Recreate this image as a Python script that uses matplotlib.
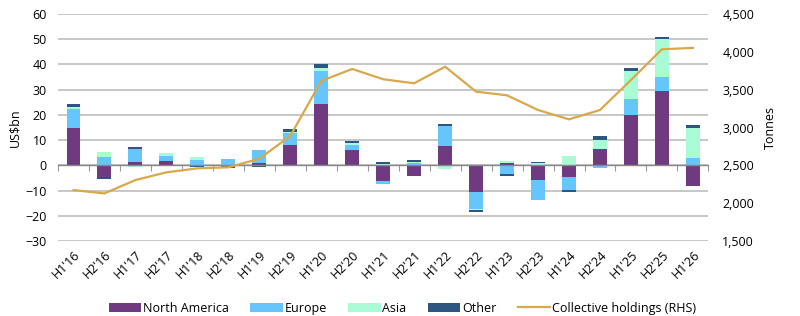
import matplotlib.pyplot as plt
import numpy as np

plt.rcParams['font.family'] = ['Open Sans', 'DejaVu Sans']

periods = ["H1'16", "H2'16", "H1'17", "H2'17", "H1'18", "H2'18", "H1'19",
           "H2'19", "H1'20", "H2'20", "H1'21", "H2'21", "H1'22", "H2'22",
           "H1'23", "H2'23", "H1'24", "H2'24", "H1'25", "H2'25", "H1'26"]

# US$bn flows by region
north_america = [15.0, -4.5, 1.2, 1.8, 0.3, -0.3, 0.8, 8.2, 24.5, 6.1, -6.0,
                 -4.2, 7.7, -10.7, 1.0, -5.7, -4.6, 6.5, 20.1, 29.4, -8.0]
europe = [7.5, 3.5, 5.2, 2.0, 2.0, 2.7, 5.2, 4.6, 12.8, 2.1, -1.4,
          1.0, 7.8, -6.6, -3.5, -7.9, -5.0, -1.2, 6.1, 5.8, 2.8]
asia = [0.7, 1.8, -0.6, 1.0, 1.2, 0.0, 0.2, 0.4, 1.1, 0.8, 0.6,
        0.3, -1.4, -0.2, 0.8, 0.8, 3.6, 3.7, 11.1, 14.7, 12.2]
other = [1.0, -0.8, 1.0, -0.4, -0.7, -0.8, -0.8, 1.2, 1.8, 0.8, 0.8,
         0.8, 1.0, -1.0, -0.6, 0.7, -0.8, 1.3, 1.3, 1.0, 0.9]

# collective holdings, tonnes (RHS)
holdings = [2174, 2130, 2306, 2408, 2461, 2474, 2588, 2888, 3615, 3773, 3637,
            3584, 3803, 3473, 3425, 3231, 3108, 3231, 3628, 4033, 4051]

series = [("North America", north_america, "#703a80"),
          ("Europe", europe, "#66c6fc"),
          ("Asia", asia, "#a9fbd6"),
          ("Other", other, "#2d5680")]

fs = 9

fig = plt.figure(figsize=(8, 3.16), dpi=100)
ax = fig.add_axes([0.0725, 0.237, 0.813, 0.719])
x = np.arange(len(periods))

pos_base = np.zeros(len(periods))
neg_base = np.zeros(len(periods))
for name, vals, col in series:
    v = np.array(vals)
    base = np.where(v >= 0, pos_base, neg_base)
    ax.bar(x, v, bottom=base, width=0.45, color=col, label=name, zorder=3)
    pos_base += np.where(v >= 0, v, 0)
    neg_base += np.where(v < 0, v, 0)

ax.set_xlim(-0.5, len(periods) - 0.5)
ax.set_ylim(-30, 60)
ax.set_yticks(np.arange(-30, 61, 10))
ax.grid(axis='y', color='#bdbdbd', linewidth=1.2, zorder=0)
ax.set_axisbelow(True)
for s in ax.spines.values():
    s.set_visible(False)
ax.tick_params(axis='y', length=0, labelsize=fs, pad=8)
ax.set_xticks(x)
ax.set_xticklabels(periods, rotation=45, ha='right', rotation_mode='anchor',
                   fontsize=fs)
ax.tick_params(axis='x', length=0, pad=5)
ax.set_ylabel("US$bn", fontsize=fs, labelpad=3)

# zero line with ticks between categories
zero = ax.secondary_xaxis(30 / 90)
zero.set_xticks(np.arange(-0.5, len(periods), 1))
zero.tick_params(axis='x', direction='out', length=4, color='#999999',
                 labelbottom=False, labeltop=False, top=False, bottom=True)
zero.spines['bottom'].set_color('#888888')
zero.spines['bottom'].set_linewidth(1.0)
zero.spines['top'].set_visible(False)
zero.set_zorder(4)

ax2 = ax.twinx()
ax2.plot(x, holdings, color='#d9a84a', linewidth=1.6, zorder=5,
         label="Collective holdings (RHS)")
ax2.set_ylim(1500, 4500)
ax2.set_yticks(np.arange(1500, 4501, 500))
ax2.set_yticklabels([f"{t:,}" for t in range(1500, 4501, 500)])
ax2.tick_params(axis='y', length=0, labelsize=fs, pad=10)
for s in ax2.spines.values():
    s.set_visible(False)
ax2.set_ylabel("Tonnes", fontsize=fs, labelpad=7)

h1, l1 = ax.get_legend_handles_labels()
h2, l2 = ax2.get_legend_handles_labels()
fig.legend(h1 + h2, l1 + l2, loc='center', bbox_to_anchor=(0.503, 0.024),
           ncol=5, frameon=False, fontsize=fs, handlelength=2.6,
           handleheight=0.75, columnspacing=1.7, handletextpad=0.15)

fig.savefig("out.png", dpi=100)
